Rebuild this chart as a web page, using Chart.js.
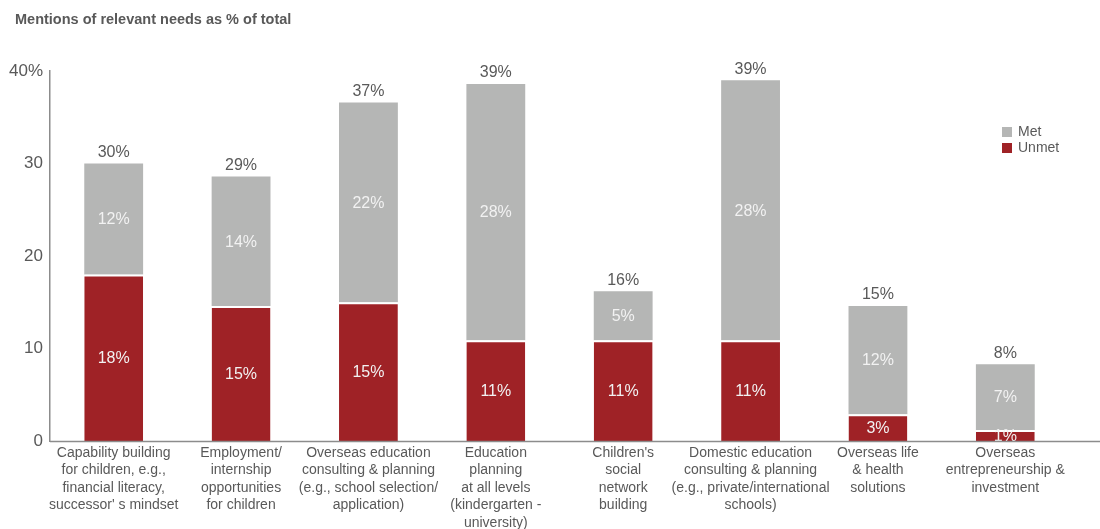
<!DOCTYPE html>
<html>
<head>
<meta charset="utf-8">
<script src="https://cdn.jsdelivr.net/npm/chart.js@4/dist/chart.umd.min.js"></script>
<style>
  html, body { margin: 0; padding: 0; background: #fff; }
  #wrap { position: relative; width: 1100px; height: 529px; }
</style>
</head>
<body>
<div id="wrap"><canvas id="needs"></canvas></div>
<script>
// categories (multi-line x labels)
const categories = [
    ['Capability building', 'for children, e.g.,', 'financial literacy,', "successor' s mindset"],
    ['Employment/', 'internship', 'opportunities', 'for children'],
    ['Overseas education', 'consulting & planning', '(e.g., school selection/', 'application)'],
    ['Education', 'planning', 'at all levels', '(kindergarten -', 'university)'],
    ["Children's", 'social', 'network', 'building'],
    ['Domestic education', 'consulting & planning', '(e.g., private/international', 'schools)'],
    ['Overseas life', '& health', 'solutions'],
    ['Overseas', 'entrepreneurship &', 'investment']
];
const unmet = [18.0, 14.6, 15.0, 10.9, 10.9, 10.9, 2.9, 1.2];
const met = [12.0, 14.0, 21.6, 27.7, 5.3, 28.1, 11.7, 7.1];
const yTicks = [0, 10, 20, 30, 40];

const RED = '#9f2226';
const GREY = '#b5b6b5';
const TEXT = '#595959';
const FONT = '"Liberation Sans", Arial, sans-serif';

// value labels inside segments + totals on top, legend, baseline
const overlay = {
    id: 'overlay',
    afterDatasetsDraw(chart) {
        const ctx = chart.ctx;
        const area = chart.chartArea;
        ctx.save();
        ctx.textAlign = 'center';
        ctx.textBaseline = 'middle';
        ctx.font = '16px ' + FONT;
        ctx.fillStyle = '#f2f2f2';
        chart.data.datasets.forEach((ds, di) => {
            chart.getDatasetMeta(di).data.forEach((bar, i) => {
                const mid = (bar.y + bar.base) / 2;
                ctx.fillText(Math.round(ds.data[i]) + '%', bar.x, mid + 1);
            });
        });
        // totals
        ctx.fillStyle = TEXT;
        ctx.textBaseline = 'bottom';
        const topMeta = chart.getDatasetMeta(1);
        topMeta.data.forEach((bar, i) => {
            const total = unmet[i] + met[i];
            ctx.fillText(Math.round(total) + '%', bar.x, bar.y - 3);
        });

        // x baseline runs to the edge of the canvas
        ctx.strokeStyle = '#8c8c8c';
        ctx.lineWidth = 1.5;
        ctx.beginPath();
        ctx.moveTo(area.left, area.bottom + 0.5);
        ctx.lineTo(chart.width, area.bottom + 0.5);
        ctx.stroke();

        // title
        ctx.textAlign = 'left';
        ctx.textBaseline = 'alphabetic';
        ctx.font = 'bold 14.5px ' + FONT;
        ctx.fillText('Mentions of relevant needs as % of total', 15, 24);

        // legend
        const items = [['Met', GREY], ['Unmet', RED]];
        ctx.font = '14px ' + FONT;
        ctx.textBaseline = 'middle';
        items.forEach((it, k) => {
            const y = 127 + k * 16;
            ctx.fillStyle = it[1];
            ctx.fillRect(1002, y, 10, 10);
            ctx.fillStyle = TEXT;
            ctx.fillText(it[0], 1018, y + 5);
        });
        ctx.restore();
    }
};

const ctx = document.getElementById('needs').getContext('2d');
const needsChart = new Chart(ctx, {
    type: 'bar',
    data: {
        labels: categories,
        datasets: [{
            label: 'Unmet',
            data: unmet,
            backgroundColor: RED,
            borderColor: '#ffffff',
            borderWidth: { top: 2, left: 0, right: 0, bottom: 0 },
            borderSkipped: false
        }, {
            label: 'Met',
            data: met,
            backgroundColor: GREY,
            borderWidth: 0
        }]
    },
    options: {
        responsive: true,
        maintainAspectRatio: false,
        animation: false,
        layout: {
            padding: { top: 71, right: 31, left: 0, bottom: 0 }
        },
        datasets: {
            bar: { barPercentage: 0.462, categoryPercentage: 1 }
        },
        plugins: {
            legend: { display: false },
            tooltip: { enabled: false }
        },
        scales: {
            x: {
                stacked: true,
                grid: { display: false, drawTicks: false },
                border: { display: false },
                ticks: {
                    color: TEXT,
                    font: { family: FONT, size: 14, lineHeight: 1.25 },
                    padding: 3,
                    maxRotation: 0,
                    autoSkip: false
                },
                afterFit: (s) => { s.height = 88; }
            },
            y: {
                stacked: true,
                min: 0,
                max: 40,
                afterBuildTicks: (s) => { s.ticks = yTicks.map(v => ({ value: v })); },
                grid: { display: false, drawTicks: false },
                border: { display: true, color: '#8c8c8c', width: 1.5 },
                ticks: {
                    color: TEXT,
                    font: { family: FONT, size: 17 },
                    padding: 7,
                    callback: (v) => v === 40 ? '40%' : v
                },
                afterFit: (s) => { s.width = 50; }
            }
        }
    },
    plugins: [overlay]
});
</script>
</body>
</html>
